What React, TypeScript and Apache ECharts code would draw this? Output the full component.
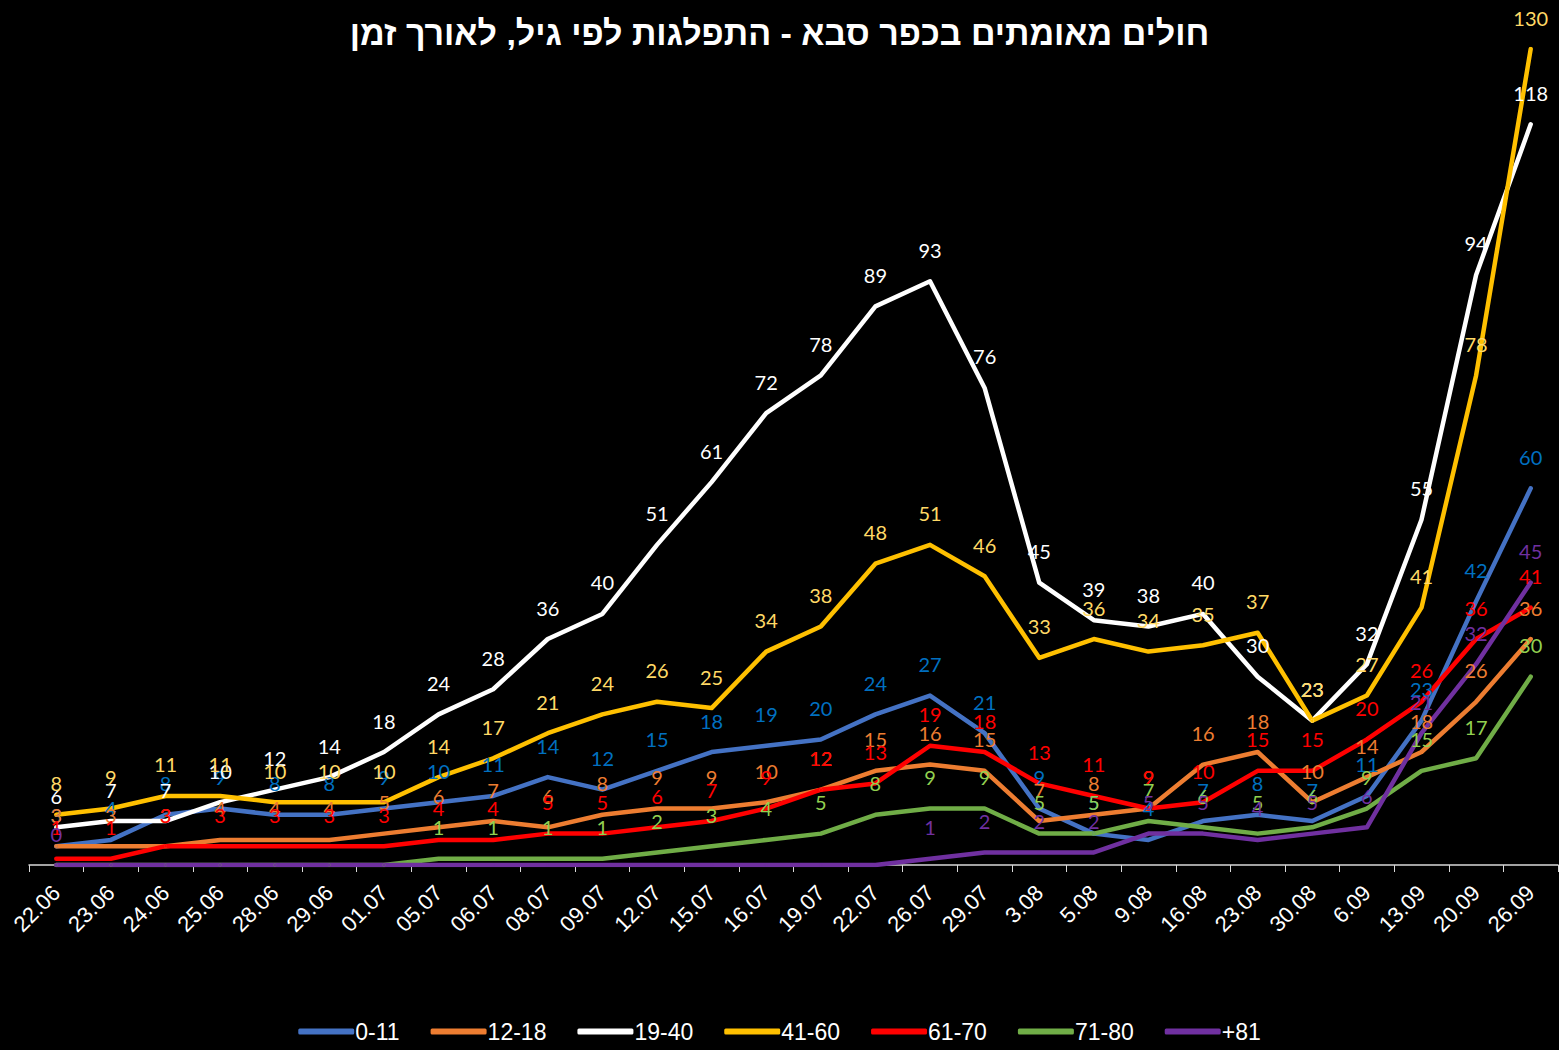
import React, { useEffect, useRef } from "react";
import * as echarts from "echarts";

const categories = ["22.06","23.06","24.06","25.06","28.06","29.06","01.07","05.07","06.07","08.07","09.07","12.07","15.07","16.07","19.07","22.07","26.07","29.07","3.08","5.08","9.08","16.08","23.08","30.08","6.09","13.09","20.09","26.09"];

const age0to11 = [3,4,8,9,8,8,9,10,11,14,12,15,18,19,20,24,27,21,9,5,4,7,8,7,11,23,42,60];
const age12to18 = [3,3,3,4,4,4,5,6,7,6,8,9,9,10,12,15,16,15,7,8,9,16,18,10,14,18,26,36];
const age19to40 = [6,7,7,10,12,14,18,24,28,36,40,51,61,72,78,89,93,76,45,39,38,40,30,23,32,55,94,118];
const age41to60 = [8,9,11,11,10,10,10,14,17,21,24,26,25,34,38,48,51,46,33,36,34,35,37,23,27,41,78,130];
const age61to70 = [1,1,3,3,3,3,3,4,4,5,5,6,7,9,12,13,19,18,13,11,9,10,15,15,20,26,36,41];
const age71to80 = [0,0,0,0,0,0,0,1,1,1,1,2,3,4,5,8,9,9,5,5,7,6,5,6,9,15,17,30];
const age81plus = [0,0,0,0,0,0,0,0,0,0,0,0,0,0,0,0,1,2,2,2,5,5,4,5,6,21,32,45];

const seriesNames = ["0-11","12-18","19-40","41-60","61-70","71-80","+81"];
const seriesData = [age0to11, age12to18, age19to40, age41to60, age61to70, age71to80, age81plus];
const lineColors = ["#4472C4","#ED7D31","#FFFFFF","#FFC000","#FF0000","#70AD47","#7030A0"];
const labelColors = ["#0070C0","#ED7D31","#FFFFFF","#FFD966","#FF0000","#92D050","#7030A0"];

const TITLE = "חולים מאומתים בכפר סבא - התפלגות לפי גיל, לאורך זמן";
const SANS = "'Liberation Sans', Arial, sans-serif";

export default function App() {
  const ref = useRef<HTMLDivElement>(null);
  useEffect(() => {
    if (!ref.current) return;
    const chart = echarts.init(ref.current, null, { renderer: "svg" });
    chart.setOption({
      animation: false,
      backgroundColor: "#000000",
      title: {
        text: TITLE,
        left: "center",
        top: 11,
        textStyle: { color: "#FFFFFF", fontSize: 34, fontWeight: "bold", fontFamily: SANS },
      },
      legend: {
        bottom: 2,
        left: "center",
        icon: "roundRect",
        itemWidth: 56,
        itemHeight: 6,
        itemGap: 31,
        textStyle: { color: "#FFFFFF", fontSize: 23, fontFamily: SANS, padding: [0, 0, 0, -4] },
        data: seriesNames,
      },
      grid: { left: 29, right: 1, top: 49, bottom: 185, containLabel: false },
      xAxis: {
        type: "category",
        data: categories,
        boundaryGap: true,
        axisLine: { show: true, lineStyle: { color: "#D9D9D9", width: 1.5 } },
        axisTick: { show: true, length: 7, lineStyle: { color: "#D9D9D9" } },
        axisLabel: { color: "#FFFFFF", fontSize: 22, rotate: 45, margin: 24, fontFamily: SANS, interval: 0 },
      },
      yAxis: { type: "value", min: 0, max: 130, show: false, splitLine: { show: false } },
      series: seriesData.map((d, i) => ({
        name: seriesNames[i],
        type: "line",
        data: d,
        color: lineColors[i],
        symbol: "circle",
        symbolSize: 3,
        itemStyle: { color: lineColors[i] },
        lineStyle: { color: lineColors[i], width: 4.5, cap: "round", join: "round" },
        label: {
          show: true,
          position: "top",
          distance: 20,
          color: labelColors[i],
          fontSize: 20,
          fontFamily: "Lato, 'Open Sans', sans-serif",
          formatter: (p: any) =>
            p.value === 0 && !(i === 6 && p.dataIndex === 0) ? "" : String(p.value),
        },
        emphasis: { disabled: true },
      })),
    });
    return () => chart.dispose();
  }, []);
  return (
    <div
      ref={ref}
      style={{ position: "absolute", left: 0, top: 0, width: 1559, height: 1050, background: "#000" }}
    />
  );
}
